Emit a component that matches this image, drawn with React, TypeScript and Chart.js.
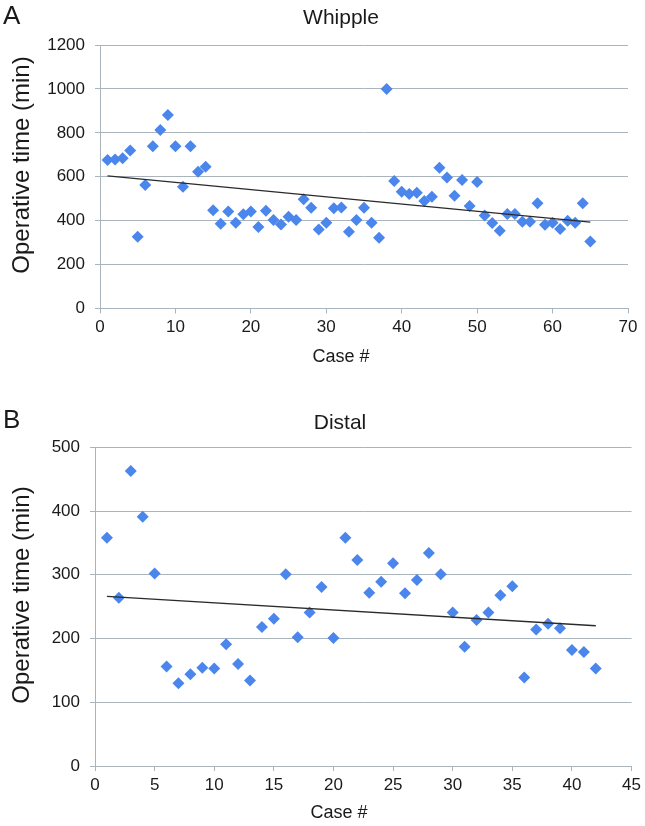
import React, { useEffect, useRef } from "react";
import { Chart, registerables } from "chart.js";

Chart.register(...registerables);

// ---------- data ----------
const whippleCases = [
  1, 2, 3, 4, 5, 6, 7, 8, 9, 10, 11, 12, 13, 14, 15, 16, 17, 18, 19, 20,
  21, 22, 23, 24, 25, 26, 27, 28, 29, 30, 31, 32, 33, 34, 35, 36, 37, 38, 39, 40,
  41, 42, 43, 44, 45, 46, 47, 48, 49, 50, 51, 52, 53, 54, 55, 56, 57, 58, 59, 60,
  61, 62, 63, 64, 65,
];
const whippleTimes = [
  676, 679, 684, 719, 327, 562, 739, 813, 881, 739,
  555, 739, 623, 646, 448, 386, 442, 391, 429, 442,
  371, 445, 403, 383, 418, 403, 498, 459, 360, 391,
  456, 460, 350, 403, 459, 391, 322, 1000, 581, 532,
  521, 527, 489, 509, 641, 597, 514, 585, 467, 576,
  424, 389, 354, 430, 430, 395, 395, 479, 381, 391,
  362, 400, 391, 479, 305,
];
const whippleTrendX = [1, 65];
const whippleTrendY = [604, 393];

const distalCases = [
  1, 2, 3, 4, 5, 6, 7, 8, 9, 10, 11, 12, 13, 14, 15, 16, 17, 18, 19, 20,
  21, 22, 23, 24, 25, 26, 27, 28, 29, 30, 31, 32, 33, 34, 35, 36, 37, 38, 39, 40,
  41, 42,
];
const distalTimes = [
  358, 264, 463, 391, 302, 156, 130, 144, 154, 153,
  191, 160, 134, 218, 231, 301, 202, 241, 281, 201,
  358, 323, 272, 289, 318, 271, 292, 334, 301, 241,
  187, 229, 241, 268, 282, 139, 214, 223, 216, 182,
  179, 153,
];
const distalTrendX = [1, 42];
const distalTrendY = [266, 220];

// ---------- styles ----------
const FONT = "'Liberation Sans', Arial, Helvetica, sans-serif";
const BLUE = "#4a86ec";
const GRID = "#aab4bd";
const TEXT = "#1a1a1a";

type PanelProps = {
  cases: number[];
  times: number[];
  trendX: number[];
  trendY: number[];
  xMax: number;
  xStep: number;
  yMax: number;
  yStep: number;
  top: number;
  height: number;
  axisW: number;
  axisH: number;
  padTop: number;
  padRight: number;
};

function ScatterPanel(p: PanelProps) {
  const ref = useRef<HTMLCanvasElement | null>(null);
  useEffect(() => {
    if (!ref.current) return;
    const pts = p.cases.map((c, i) => ({ x: c, y: p.times[i] }));
    const trend = p.trendX.map((x, i) => ({ x, y: p.trendY[i] }));
    const chart = new Chart(ref.current, {
      type: "scatter",
      data: {
        datasets: [
          {
            type: "line",
            data: trend,
            borderColor: "#2a2a2a",
            borderWidth: 1.3,
            pointRadius: 0,
            fill: false,
          } as any,
          {
            data: pts,
            pointStyle: "rectRot",
            pointRadius: 6,
            backgroundColor: BLUE,
            borderWidth: 0,
          },
        ],
      },
      options: {
        responsive: false,
        animation: false,
        layout: { padding: { top: p.padTop, right: p.padRight, left: 0, bottom: 0 } },
        plugins: { legend: { display: false }, tooltip: { enabled: false }, title: { display: false } },
        scales: {
          x: {
            type: "linear",
            min: 0,
            max: p.xMax,
            ticks: {
              stepSize: p.xStep,
              color: TEXT,
              font: { family: FONT, size: 17 },
              padding: 4,
              maxRotation: 0,
              callback: (v: any) => String(v),
            },
            grid: { drawOnChartArea: false, drawTicks: true, tickLength: 5, color: GRID, tickColor: GRID },
            border: { color: GRID, width: 1 },
            afterFit: (s: any) => {
              s.height = p.axisH;
            },
          },
          y: {
            type: "linear",
            min: 0,
            max: p.yMax,
            ticks: {
              stepSize: p.yStep,
              color: TEXT,
              font: { family: FONT, size: 17 },
              padding: 10,
              callback: (v: any) => String(v),
            },
            grid: { color: GRID, tickLength: 5, tickColor: GRID },
            border: { color: GRID, width: 1 },
            afterFit: (s: any) => {
              s.width = p.axisW;
            },
          },
        },
      },
    });
    return () => chart.destroy();
  }, []);
  return (
    <canvas
      ref={ref}
      width={645}
      height={p.height}
      style={{ position: "absolute", left: 0, top: p.top, width: 645, height: p.height, display: "block" }}
    />
  );
}

function Label(props: { text: string; x: number; baseline: number; size: number; center?: boolean }) {
  const top = props.baseline - 0.8465 * props.size;
  return (
    <div
      style={{
        position: "absolute",
        left: props.x,
        top,
        fontSize: props.size,
        lineHeight: 1,
        whiteSpace: "nowrap",
        color: TEXT,
        transform: props.center ? "translateX(-50%)" : undefined,
      }}
    >
      {props.text}
    </div>
  );
}

function YTitle(props: { text: string; cx: number; cy: number; size: number }) {
  return (
    <div
      style={{
        position: "absolute",
        left: props.cx,
        top: props.cy,
        fontSize: props.size,
        lineHeight: 1,
        whiteSpace: "nowrap",
        color: TEXT,
        transform: "translate(-50%, -50%) rotate(-90deg)",
      }}
    >
      {props.text}
    </div>
  );
}

export default function App() {
  return (
    <div
      style={{
        position: "fixed",
        left: 0,
        top: 0,
        width: 645,
        height: 826,
        background: "#ffffff",
        fontFamily: FONT,
        overflow: "hidden",
      }}
    >
      <ScatterPanel
        cases={whippleCases}
        times={whippleTimes}
        trendX={whippleTrendX}
        trendY={whippleTrendY}
        xMax={70}
        xStep={10}
        yMax={1200}
        yStep={200}
        top={0}
        height={375}
        axisW={100}
        axisH={66.5}
        padTop={45}
        padRight={17}
      />
      <ScatterPanel
        cases={distalCases}
        times={distalTimes}
        trendX={distalTrendX}
        trendY={distalTrendY}
        xMax={45}
        xStep={5}
        yMax={500}
        yStep={100}
        top={380}
        height={446}
        axisW={95}
        axisH={60}
        padTop={67.3}
        padRight={10}
      />
      <Label text="A" x={3} baseline={24} size={26} />
      <Label text="B" x={3} baseline={428} size={26} />
      <Label text="Whipple" x={341} baseline={24} size={21} center />
      <Label text="Distal" x={340} baseline={429} size={21} center />
      <Label text="Case #" x={341} baseline={362} size={18} center />
      <Label text="Case #" x={339} baseline={818} size={18} center />
      <YTitle text="Operative time (min)" cx={21} cy={165} size={24} />
      <YTitle text="Operative time (min)" cx={21} cy={595} size={24} />
    </div>
  );
}
